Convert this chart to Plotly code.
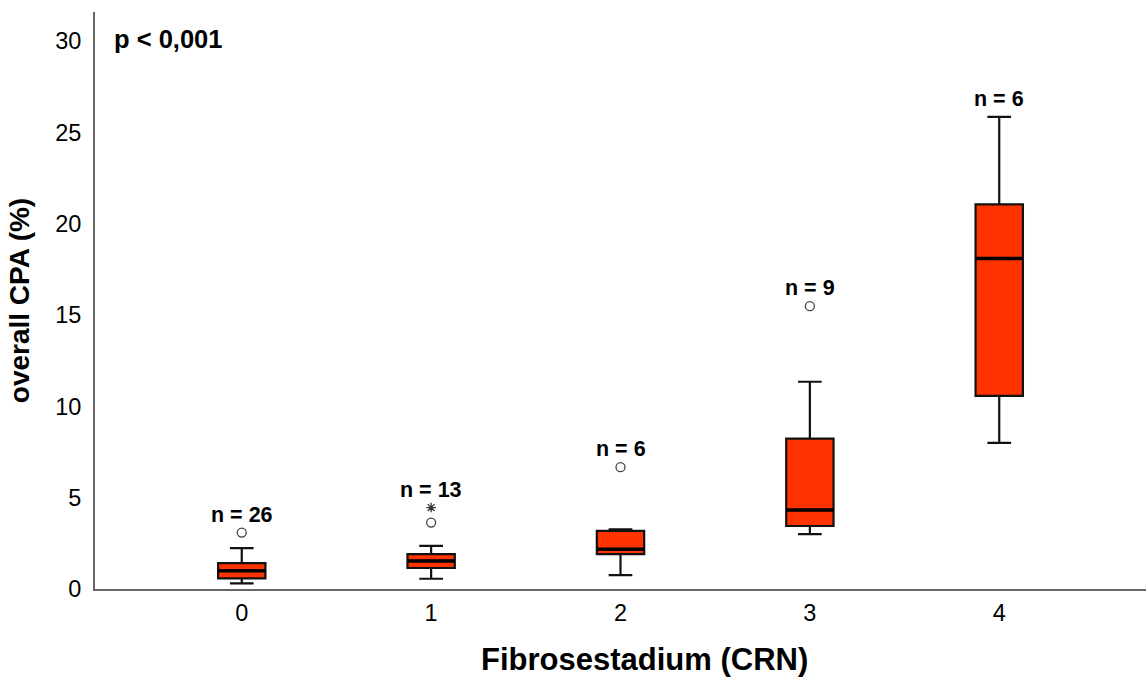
import plotly.graph_objects as go

# ---- data ----
stages = [0, 1, 2, 3, 4]
stage_labels = ["0", "1", "2", "3", "4"]
n_counts = [26, 13, 6, 9, 6]
q1 = [0.58, 1.15, 1.91, 3.45, 10.58]
median = [1.00, 1.54, 2.18, 4.33, 18.10]
q3 = [1.42, 1.91, 3.18, 8.24, 21.06]
lower_whisker = [0.31, 0.56, 0.76, 3.00, 8.00]
upper_whisker = [2.24, 2.36, 3.27, 11.35, 25.86]
outlier_stage = [0, 1, 2, 3]
outlier_value = [3.09, 3.64, 6.67, 15.49]
extreme_stage = [1]
extreme_value = [4.46]

FONT = "Liberation Sans, Arial, sans-serif"
BOX_W = 0.25
RED = "#ff3300"

fig = go.Figure()

fig.add_trace(go.Box(
    x=stages, q1=q1, median=median, q3=q3,
    lowerfence=lower_whisker, upperfence=upper_whisker,
    width=BOX_W, whiskerwidth=0.5,
    fillcolor=RED, line=dict(color="#111111", width=2.2),
    boxpoints=False, showlegend=False, hoverinfo="skip",
))

# thicker median bars
for s, m in zip(stages, median):
    fig.add_trace(go.Scatter(
        x=[s - BOX_W / 2, s + BOX_W / 2], y=[m, m], mode="lines",
        line=dict(color="black", width=3.5), showlegend=False, hoverinfo="skip",
    ))

fig.add_trace(go.Scatter(
    x=outlier_stage, y=outlier_value, mode="markers",
    marker=dict(symbol="circle-open", size=9, color="#444", line=dict(width=1.3)),
    showlegend=False, hoverinfo="skip",
))
fig.add_trace(go.Scatter(
    x=extreme_stage, y=extreme_value, mode="markers",
    marker=dict(symbol="asterisk-open", size=8, color="#333", line=dict(width=1.3)),
    showlegend=False, hoverinfo="skip",
))

# n labels above the top-most element of each group
for s, n in zip(stages, n_counts):
    top = max([upper_whisker[s]]
              + [v for st, v in zip(outlier_stage, outlier_value) if st == s]
              + [v for st, v in zip(extreme_stage, extreme_value) if st == s])
    fig.add_annotation(
        x=s, y=top, text=f"<b>n = {n}</b>", showarrow=False,
        yanchor="middle", yshift=18,
        font=dict(family=FONT, size=21.5, color="black"),
    )

fig.add_annotation(
    xref="paper", yref="paper", x=0.016, y=0.953, xanchor="left", yanchor="middle",
    text="<b>p < 0,001</b>", showarrow=False,
    font=dict(family=FONT, size=25.5, color="black"),
)

# x-axis title (placed as annotation so it can sit slightly right of centre as in the source)
fig.add_annotation(
    xref="paper", yref="paper", x=0.523, y=-0.122, xanchor="center", yanchor="middle",
    text="<b>Fibrosestadium (CRN)</b>", showarrow=False,
    font=dict(family=FONT, size=31, color="black"),
)

fig.update_layout(
    width=1148, height=678,
    margin=dict(l=95, r=2, t=12, b=88.5),
    paper_bgcolor="white", plot_bgcolor="white",
    font=dict(family=FONT, color="black"),
    xaxis=dict(
        range=[-0.775, 4.775], tickmode="array", tickvals=stages, ticktext=stage_labels,
        showgrid=False, zeroline=False, showline=True, linecolor="#666", linewidth=2,
        ticks="", tickfont=dict(size=23.5, family=FONT), ticklabelstandoff=2,
    ),
    yaxis=dict(
        range=[0, 31.6], tickmode="array", tickvals=[0, 5, 10, 15, 20, 25, 30],
        showgrid=False, zeroline=False, showline=True, linecolor="#666", linewidth=2,
        ticks="", tickfont=dict(size=23.5, family=FONT), ticklabelstandoff=7,
        title=dict(text="<b>overall CPA (%)</b>", font=dict(size=28, family=FONT), standoff=17),
    ),
)

fig.write_html("out.html")
